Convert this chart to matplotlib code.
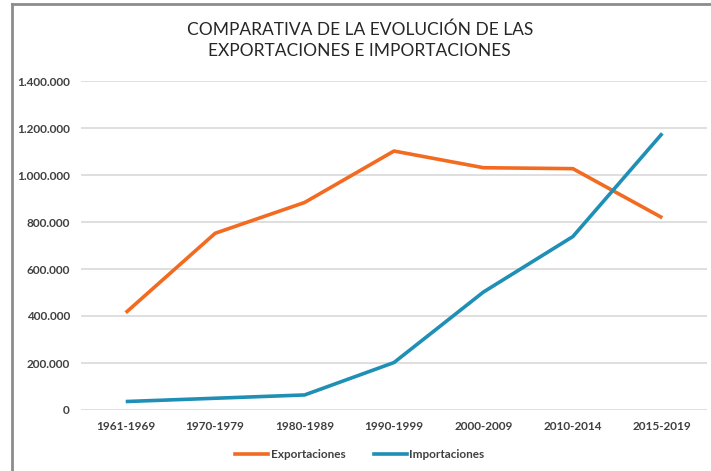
import matplotlib.pyplot as plt
from matplotlib.lines import Line2D
from matplotlib.ticker import FuncFormatter

periodos = ["1961-1969", "1970-1979", "1980-1989", "1990-1999",
            "2000-2009", "2010-2014", "2015-2019"]
exportaciones = [414000, 752000, 883000, 1102000, 1031000, 1027000, 818000]
importaciones = [36000, 50000, 64000, 202000, 502000, 738000, 1177000]

naranja = "#F26B21"
azul = "#1F8FB5"

plt.rcParams['font.family'] = ['Lato', 'DejaVu Sans']

fig = plt.figure(figsize=(7.11, 4.71), dpi=100)
ax = fig.add_axes([81 / 711, 1 - 410 / 471, 626 / 711, 329 / 471])

x = range(len(periodos))
ax.plot(x, exportaciones, color=naranja, linewidth=2.6, solid_capstyle='butt')
ax.plot(x, importaciones, color=azul, linewidth=2.6, solid_capstyle='butt')

ax.set_xlim(-0.5, len(periodos) - 0.5)
ax.set_ylim(0, 1400000)
ax.set_yticks(range(0, 1400001, 200000))
ax.yaxis.set_major_formatter(
    FuncFormatter(lambda v, p: f"{int(v):,}".replace(",", ".")))
ax.set_xticks(list(x))
ax.set_xticklabels(periodos)

ax.grid(axis='y', color='#D9D9D9', linewidth=1.2)
ax.set_axisbelow(True)
for s in ax.spines.values():
    s.set_visible(False)
ax.tick_params(length=0, labelsize=8.5, labelcolor='#404040', pad=8)
for lbl in ax.get_xticklabels() + ax.get_yticklabels():
    lbl.set_fontweight('bold')

fig.text(0.506, 1 - 40 / 471,
         "COMPARATIVA DE LA EVOLUCIÓN DE LAS\nEXPORTACIONES E IMPORTACIONES",
         ha='center', va='center', fontsize=12.5, color='#262626',
         linespacing=1.4)

handles = [Line2D([], [], color=naranja, linewidth=2.6),
           Line2D([], [], color=azul, linewidth=2.6)]
leg = fig.legend(handles, ["Exportaciones", "Importaciones"], loc='center',
                 bbox_to_anchor=(0.506, 1 - 455 / 471), ncol=2, frameon=False,
                 handlelength=2.8, handletextpad=0.2, columnspacing=2.4,
                 prop={'size': 8.5, 'weight': 'bold'})
for t in leg.get_texts():
    t.set_color('#404040')

# marco gris (solo arriba e izquierda visibles)
fig.add_artist(Line2D([12 / 711, 1], [1 - 4 / 471, 1 - 4 / 471],
                      transform=fig.transFigure, color='#8C8C8C', linewidth=2))
fig.add_artist(Line2D([12 / 711, 12 / 711], [0, 1 - 4 / 471],
                      transform=fig.transFigure, color='#8C8C8C', linewidth=2))

fig.savefig("out.png", dpi=100)
